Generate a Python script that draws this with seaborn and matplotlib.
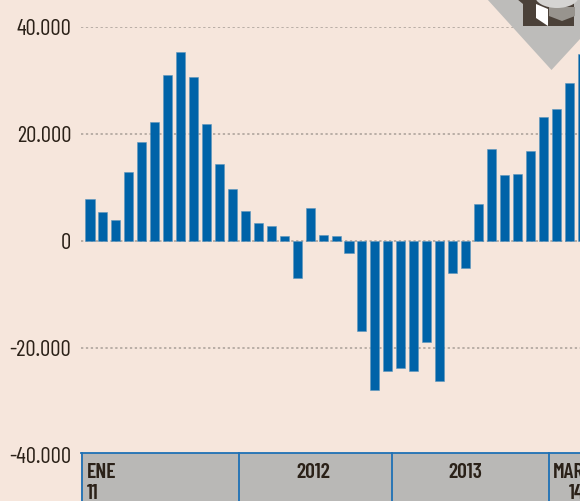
import matplotlib
matplotlib.use("Agg")
import matplotlib.pyplot as plt
import seaborn as sns
import pandas as pd
from matplotlib.patches import Polygon, Rectangle, Ellipse

# monthly values, ene 2011 - mar 2014
values = [7700, 5400, 3900, 12800, 18400, 22100, 31000, 35300, 30600, 21700,
          14300, 9600, 5600, 3200, 2700, 900, -7000, 6100, 1100, 900,
          -2300, -17000, -28000, -24300, -23800, -24300, -19000, -26200, -6100, -5100,
          6800, 17100, 12200, 12400, 16800, 23000, 24600, 29500, 34800]
y_ticks = [40000, 20000, 0, -20000, -40000]
y_labels = ["40.000", "20.000", "0", "-20.000", "-40.000"]
period_labels = ["ENE", "11", "2012", "2013", "MAR", "14"]

bg = "#f6e6dc"
blue = "#0063a8"
ink = "#2b2118"
W, H = 580, 502

plt.rcParams['font.family'] = ['Barlow Condensed', 'Roboto', 'DejaVu Sans']

fig = plt.figure(figsize=(W / 100, H / 100), dpi=100, facecolor=bg)
# axes spans the -40.000 to 40.000 gridlines, runs off the right edge
ax = fig.add_axes([81 / W, 1 - 455.5 / H, 499 / W, 428 / H], facecolor=bg)

df = pd.DataFrame({"month": range(len(values)), "value": values})
sns.barplot(data=df, x="month", y="value", native_scale=True, color=blue,
            saturation=1, width=0.7, edgecolor="#5f96bd", linewidth=0.4, ax=ax, zorder=3)

ax.set_xlim(-0.695, 37.84)
ax.set_ylim(-40000, 40000)
ax.set_xlabel("")
ax.set_ylabel("")
ax.set_xticks([])
ax.set_yticks(y_ticks)
ax.set_yticklabels(y_labels, fontsize=16.5, color=ink, fontweight="normal")
ax.tick_params(axis="y", length=0, pad=7)
ax.yaxis.grid(True, color="#a89f97", linestyle=(0, (1.5, 1.7)), linewidth=1.1)
ax.set_axisbelow(True)
sns.despine(ax=ax, left=True, bottom=True)


# helper: figure pixels measured from the top left
def px(x, y):
    return (x / W, 1 - y / H)


tr = fig.transFigure

# period strip under the chart
fig.add_artist(Rectangle(px(81, 502), 499 / W, 48 / H, transform=tr, facecolor="#b9b8b6", edgecolor="none"))
fig.add_artist(plt.Line2D([81 / W, 1], [1 - 454 / H] * 2, transform=tr, color="#1f71b5", lw=1.3))
for x in [82, 238.5, 392, 549]:
    fig.add_artist(plt.Line2D([x / W] * 2, [0, 1 - 454 / H], transform=tr, color="#1f71b5", lw=1.3))
label_pos = [(87, 478, "left"), (87, 499, "left"), (313, 478, "center"), (465, 478, "center"),
             (553, 478, "left"), (569, 499, "left")]
for text, (x, y, ha) in zip(period_labels, label_pos):
    fig.text(x / W, 1 - y / H, text, ha=ha, va="baseline", fontsize=15.5, fontweight="semibold", color=ink)

# corner icon
fig.add_artist(Polygon([px(487, 0), px(551.5, 71), px(580, 40), px(580, 0)], transform=tr,
                       facecolor="#bdbcba", edgecolor="none"))
fig.add_artist(Polygon([px(517, 0), px(523, 5), px(523, 27), px(574, 27), px(574, 0)], transform=tr,
                       facecolor="#4b4139", edgecolor="none", zorder=1.1))
fig.add_artist(Polygon([px(549, 8), px(575, 8), px(575, 17), px(562, 22), px(549, 17)], transform=tr,
                       facecolor="#98948e", edgecolor="none", zorder=1.2))
fig.add_artist(Polygon([px(536, 5), px(548, 10), px(548, 27), px(536, 19)], transform=tr,
                       facecolor="white", edgecolor="none", zorder=1.3))
fig.add_artist(Ellipse(px(557, -3), 44 / W, 24 / H, transform=tr,
                       facecolor="#d5d4d2", edgecolor="none", zorder=1.4))

fig.savefig("out.png", dpi=100, facecolor=bg)
